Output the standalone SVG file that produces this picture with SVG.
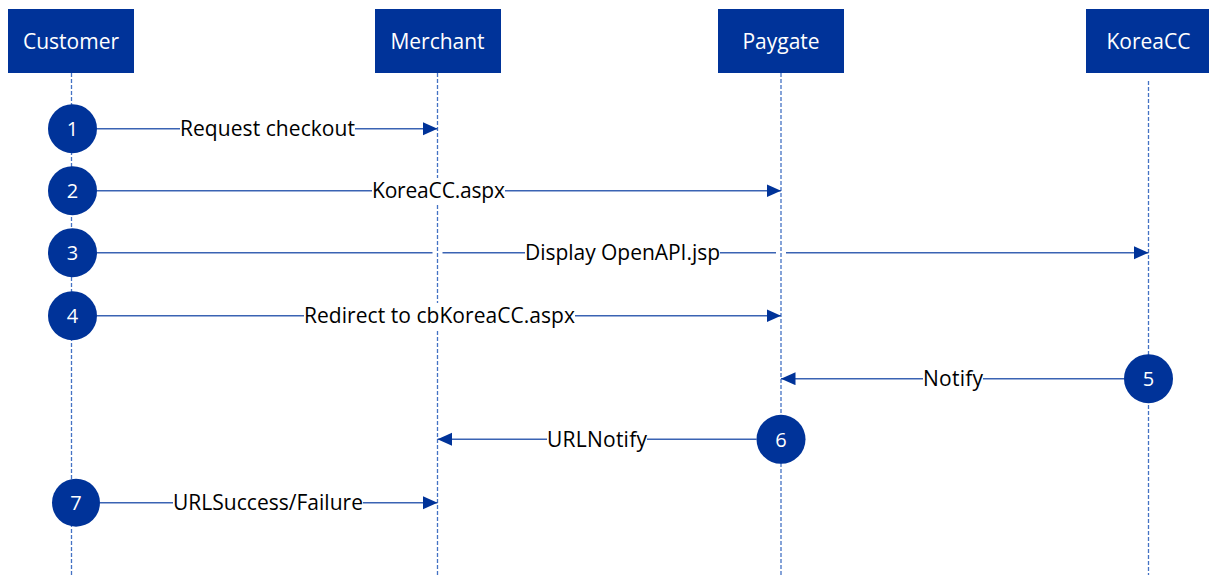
<svg xmlns="http://www.w3.org/2000/svg" width="1209" height="575" viewBox="0 0 1209 575">
<style>
.box{fill:#003399}
.hdr{font-family:"Open Sans","Noto Sans",sans-serif;font-size:21px;fill:#fff;text-anchor:middle}
.life{stroke:#4472C4;stroke-width:1.3;stroke-dasharray:4 2;fill:none}
.msg{stroke:#3A63B3;stroke-width:1.5;fill:none}
.lbl{font-family:"Open Sans","Noto Sans",sans-serif;font-size:21px;fill:#000;text-anchor:middle}
.num{font-family:"Open Sans","Noto Sans",sans-serif;font-size:20px;fill:#fff;text-anchor:middle}
.step{fill:#003399}
.bg{fill:#fff}
</style>
<defs>
<marker id="arr" markerUnits="userSpaceOnUse" markerWidth="15" markerHeight="14" refX="14.5" refY="6.5" orient="auto">
<polygon points="0,0 14.5,6.5 0,13" fill="#003399"/>
</marker>
</defs>
<rect width="1209" height="575" fill="#fff"/>
<g id="lifelines">
<line class="life" x1="71.5" y1="73" x2="71.5" y2="575"/>
<line class="life" x1="437.5" y1="73" x2="437.5" y2="575"/>
<line class="life" x1="781" y1="73" x2="781" y2="575"/>
<line class="life" x1="1148.5" y1="81" x2="1148.5" y2="575"/>
</g>
<g id="node-customer"><rect class="box" x="8" y="9" width="126" height="64"/><text class="hdr" x="71" y="49">Customer</text></g>
<g id="node-merchant"><rect class="box" x="375" y="9" width="126" height="64"/><text class="hdr" x="437.5" y="49">Merchant</text></g>
<g id="node-paygate"><rect class="box" x="718" y="9" width="126" height="64"/><text class="hdr" x="781" y="49">Paygate</text></g>
<g id="node-koreacc"><rect class="box" x="1086" y="9" width="126" height="64"/><text class="hdr" x="1148.5" y="49">KoreaCC</text></g>
<g id="connectors">
<line class="msg" x1="97" y1="128.7" x2="437.5" y2="128.7" marker-end="url(#arr)"/>
<rect class="bg" x="180" y="116" width="175" height="26"/>
<text class="lbl" x="267.5" y="136" textLength="175">Request checkout</text>

<line class="msg" x1="97" y1="190.7" x2="781" y2="190.7" marker-end="url(#arr)"/>
<rect class="bg" x="372" y="178" width="133" height="26"/>
<text class="lbl" x="438.5" y="198" textLength="133">KoreaCC.aspx</text>

<line class="msg" x1="97" y1="252.7" x2="432.5" y2="252.7"/>
<line class="msg" x1="442.5" y1="252.7" x2="776" y2="252.7"/>
<line class="msg" x1="786" y1="252.7" x2="1148.5" y2="252.7" marker-end="url(#arr)"/>
<rect class="bg" x="525" y="240" width="195" height="26"/>
<text class="lbl" x="622.5" y="260" textLength="195">Display OpenAPI.jsp</text>

<line class="msg" x1="97" y1="315.7" x2="781" y2="315.7" marker-end="url(#arr)"/>
<rect class="bg" x="304" y="303" width="271" height="26"/>
<text class="lbl" x="439.5" y="323" textLength="271">Redirect to cbKoreaCC.aspx</text>

<line class="msg" x1="1124" y1="378.7" x2="781" y2="378.7" marker-end="url(#arr)"/>
<rect class="bg" x="923" y="366" width="60" height="26"/>
<text class="lbl" x="953" y="386" textLength="60">Notify</text>

<line class="msg" x1="756.5" y1="439.3" x2="437.5" y2="439.3" marker-end="url(#arr)"/>
<rect class="bg" x="547" y="427" width="100" height="26"/>
<text class="lbl" x="597" y="447" textLength="100">URLNotify</text>

<line class="msg" x1="100" y1="502.7" x2="437.5" y2="502.7" marker-end="url(#arr)"/>
<rect class="bg" x="173" y="490" width="190" height="26"/>
<text class="lbl" x="268" y="510" textLength="190">URLSuccess/Failure</text>
</g>
<g id="step-1"><circle class="step" cx="72.5" cy="128.7" r="24.5"/><text class="num" x="72.5" y="136">1</text></g>
<g id="step-2"><circle class="step" cx="72.5" cy="190.7" r="24.5"/><text class="num" x="72.5" y="198">2</text></g>
<g id="step-3"><circle class="step" cx="72.5" cy="252.7" r="24.5"/><text class="num" x="72.5" y="260">3</text></g>
<g id="step-4"><circle class="step" cx="72.5" cy="315.7" r="24.5"/><text class="num" x="72.5" y="323">4</text></g>
<g id="step-5"><circle class="step" cx="1148.5" cy="378.7" r="24.5"/><text class="num" x="1148.5" y="386">5</text></g>
<g id="step-6"><circle class="step" cx="781" cy="439.3" r="24.5"/><text class="num" x="781" y="446.5">6</text></g>
<g id="step-7"><circle class="step" cx="76" cy="502.7" r="24"/><text class="num" x="76" y="510">7</text></g>
</svg>
